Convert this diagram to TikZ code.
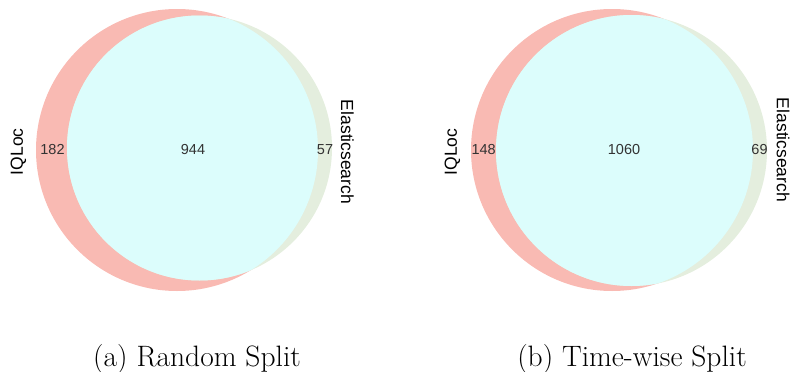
\documentclass[tikz,border=0pt]{standalone}
\usepackage{fontspec}
\setmainfont{Latin Modern Roman}
\newfontfamily\vennfont{Liberation Sans}
\definecolor{setA}{HTML}{F9BAB3}
\definecolor{setB}{HTML}{E4EEDE}
\definecolor{setAB}{HTML}{DCFDFC}
\definecolor{numcol}{HTML}{333333}
\tikzset{
  setlabel/.style={inner sep=0pt, font=\vennfont\fontsize{17.5}{20}\selectfont, text=black},
  numlabel/.style={inner sep=0pt, font=\vennfont\fontsize{14.5}{17}\selectfont, text=numcol},
  caption/.style={inner sep=0pt, anchor=base, font=\fontsize{29.5}{34}\selectfont},
}
\begin{document}
\begin{tikzpicture}[x=1pt,y=-1pt]
\useasboundingbox (0,0) rectangle (790,372);
% ---------- (a) ----------
\fill[setA] (177,150) circle (141);
\fill[setB] (199.5,148) circle (132.5);
\begin{scope}
  \clip (177,150) circle (141);
  \fill[setAB] (199.5,148) circle (132.5);
\end{scope}
\node[setlabel, rotate=90] (la) at (18.3,151.7) {IQLoc};
\node[setlabel, rotate=-90] (lb) at (347.5,152) {Elasticsearch};
\node[numlabel] (na) at (52.5,150) {182};
\node[numlabel] (nab) at (193,150) {944};
\node[numlabel] (nb) at (325,150) {57};
\node[caption] (ca) at (197,366) {(a) Random Split};
% ---------- (b) ----------
\fill[setA] (612,150) circle (141);
\fill[setB] (631.5,150.5) circle (135.5);
\begin{scope}
  \clip (612,150) circle (141);
  \fill[setAB] (631.5,150.5) circle (135.5);
\end{scope}
\node[setlabel, rotate=90] (la2) at (452.5,152) {IQLoc};
\node[setlabel, rotate=-90] (lb2) at (783,150) {Elasticsearch};
\node[numlabel] (na2) at (483.7,150) {148};
\node[numlabel] (nab2) at (624,150) {1060};
\node[numlabel] (nb2) at (759.5,150) {69};
\node[caption] (cb) at (632,366) {(b) Time-wise Split};
\end{tikzpicture}
\end{document}
